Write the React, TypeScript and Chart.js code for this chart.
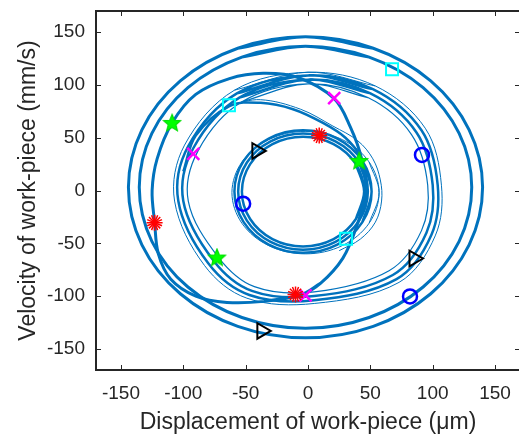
import React, { useEffect, useRef } from 'react';
import { Chart, registerables } from 'chart.js';

Chart.register(...registerables);

type Pt = [number, number];

// ---------- axes ----------
const xLimits = [-170, 170];
const yLimits = [-170, 170];
const xTickValues = [-150, -100, -50, 0, 50, 100, 150];
const yTickValues = [-150, -100, -50, 0, 50, 100, 150];
const xTitle = 'Displacement of work-piece (μm)';
const yTitle = 'Velocity of work-piece (mm/s)';

// ---------- trajectory curves (displacement, velocity) ----------
const outerLoop1: Pt[] = [
  [-2, 145.5], [52.3, 134.7], [98.4, 103.8], [129.2, 57.5], [140, 3], [129.2, -51.5],
  [98.4, -97.8], [52.3, -128.7], [-2, -139.5], [-56.3, -128.7], [-102.4, -97.8],
  [-133.2, -51.5], [-144, 3], [-133.2, 57.5], [-102.4, 103.8], [-56.3, 134.7],
];
const outerLoop2: Pt[] = [
  [-2, 136.5], [49, 126.3], [92.3, 97.4], [121.2, 54.1], [131.3, 3], [121.2, -48.1],
  [92.3, -91.4], [49, -120.3], [-2, -130.5], [-53, -120.3], [-96.3, -91.4],
  [-125.2, -48.1], [-135.3, 3], [-125.2, 54.1], [-96.3, 97.4], [-53, 126.3],
];
const crossingLoop: Pt[] = [
  [-6, -99], [-35, -105], [-65, -106], [-90, -100], [-110, -84], [-120, -60], [-123, -30],
  [-125, 0], [-121, 30], [-109, 64], [-90, 91], [-63, 106], [-36, 111], [-8, 107],
  [21, 87], [34, 60], [43, 30], [46, -2], [39, -34], [28, -64], [10, -88],
];
const middleRingA: Pt[] = [
  [0, 105], [50, 92], [87, 55], [100, 5], [95, -40], [68, -80], [5, -100], [-45, -95],
  [-76, -66], [-100, -10], [-92, 40], [-55, 88],
];
const middleRingB: Pt[] = [
  [0, 109], [52, 96], [91, 57], [104, 5], [99, -42], [71, -84], [5, -104], [-47, -99],
  [-80, -69], [-104, -10], [-96, 42], [-57, 92],
];
const middleRingC: Pt[] = [
  [0, 101], [48, 88], [83, 53], [96, 5], [91, -38], [65, -76], [5, -96], [-43, -91],
  [-72, -63], [-96, -10], [-88, 38], [-53, 84],
];
const middleRingD: Pt[] = [
  [0, 112], [54, 99], [94, 59], [107, 5], [102, -43], [73, -87], [5, -107], [-49, -102],
  [-83, -71], [-107, -10], [-99, 43], [-59, 95],
];
const innerRingA: Pt[] = [
  [48, -1], [41, 26.5], [22, 46.6], [-4, 54], [-30, 46.6], [-49, 26.5], [-56, -1],
  [-49, -28.5], [-30, -48.6], [-4, -56], [22, -48.6], [41, -28.5],
];
const innerRingB: Pt[] = [
  [51, -1], [43.6, 28], [23.5, 49.2], [-4, 57], [-31.5, 49.2], [-51.6, 28], [-59, -1],
  [-51.6, -30], [-31.5, -51.2], [-4, -59], [23.5, -51.2], [43.6, -30],
];
const innerRingC: Pt[] = [
  [45, -1], [38.4, 25], [20.5, 44], [-4, 51], [-28.5, 44], [-46.4, 25], [-53, -1],
  [-46.4, -27], [-28.5, -46], [-4, -53], [20.5, -46], [38.4, -27],
];
const innerRingD: Pt[] = [
  [57, -2], [49, 27], [27.5, 48.2], [-2, 56], [-31.5, 48.2], [-53, 27], [-61, -2],
  [-53, -31], [-31.5, -52.2], [-2, -60], [27.5, -52.2], [49, -31],
];
const transitionThick: Pt[] = [
  [-100, 18], [-90, 52], [-63, 80], [-38, 83], [-12, 77], [12, 64], [30, 50], [42, 32],
  [47, 10], [46, -10],
];
const transitionThin: Pt[] = [
  [-63, 81], [-38, 86], [-6, 77], [20, 61], [40, 47], [52, 30], [58, 10], [59, -10],
  [54, -30], [42, -46], [25, -57],
];

// ---------- Poincaré-type markers ----------
const redStarX = [9, -123, -10];
const redStarY = [52, -30.5, -98.4];
const greenStarX = [-109, 41, -73];
const greenStarY = [64, 28, -63.5];
const magentaCrossX = [21, -92, -2];
const magentaCrossY = [87.5, 34.6, -99.3];
const cyanSquareX = [67.4, -63.4, 30.5];
const cyanSquareY = [114.8, 80.8, -45.6];
const blueCircleX = [91.4, -52, 81.8];
const blueCircleY = [33.7, -12.5, -100.3];
const blackTriangleX = [-41, 85, -37];
const blackTriangleY = [37.5, -64.4, -133];

const LINE_BLUE = '#0072BD';
const AXIS_COLOR = '#262626';
const FONT = "'Liberation Sans', Arial, sans-serif";

const closedPath = (pts: Pt[]) => {
  const n = pts.length;
  return [pts[n - 1], ...pts, pts[0], pts[1]].map(([x, y]) => ({ x, y }));
};
const openPath = (pts: Pt[]) => pts.map(([x, y]) => ({ x, y }));
const zipXY = (xs: number[], ys: number[]) => xs.map((x, i) => ({ x, y: ys[i] }));

const curve = (data: { x: number; y: number }[], width: number) => ({
  data,
  showLine: true,
  borderColor: LINE_BLUE,
  borderWidth: width,
  pointRadius: 0,
  tension: 0.35,
  fill: false,
  order: 1,
});

const zeroPadding = (s: any) => {
  s.paddingTop = 0;
  s.paddingBottom = 0;
  s.paddingLeft = 0;
  s.paddingRight = 0;
};

const boxPlugin = {
  id: 'matlabBox',
  afterDatasetsDraw(chart: any) {
    const { ctx, chartArea, scales } = chart;
    const { left, right, top, bottom } = chartArea;
    const tick = 5;
    ctx.save();
    ctx.strokeStyle = AXIS_COLOR;
    ctx.lineWidth = 1;
    ctx.beginPath();
    for (const v of xTickValues) {
      const px = Math.round(scales.x.getPixelForValue(v)) + 0.5;
      ctx.moveTo(px, bottom);
      ctx.lineTo(px, bottom - tick);
      ctx.moveTo(px, top);
      ctx.lineTo(px, top + tick);
    }
    for (const v of yTickValues) {
      const py = Math.round(scales.y.getPixelForValue(v)) + 0.5;
      ctx.moveTo(left, py);
      ctx.lineTo(left + tick, py);
      ctx.moveTo(right, py);
      ctx.lineTo(right - tick, py);
    }
    ctx.stroke();
    ctx.lineWidth = 2;
    ctx.strokeRect(left, top, right - left, bottom - top);
    ctx.restore();
  },
};

export default function App() {
  const canvasRef = useRef<HTMLCanvasElement | null>(null);

  useEffect(() => {
    const canvas = canvasRef.current;
    if (!canvas) return;

    const pentagram = document.createElement('canvas');
    pentagram.width = 20;
    pentagram.height = 20;
    const pc = pentagram.getContext('2d')!;
    pc.beginPath();
    for (let i = 0; i < 10; i++) {
      const r = i % 2 === 0 ? 9 : 4;
      const a = -Math.PI / 2 + (i * Math.PI) / 5;
      pc.lineTo(10 + r * Math.cos(a), 10.5 + r * Math.sin(a));
    }
    pc.closePath();
    pc.fillStyle = '#00FF00';
    pc.fill();
    pc.strokeStyle = '#00E000';
    pc.lineWidth = 1.2;
    pc.stroke();

    const marker = (data: any[], style: any, color: string, radius: number, width: number, rotation = 0) => ({
      data,
      showLine: false,
      pointStyle: style,
      pointRadius: radius,
      pointRotation: rotation,
      pointBorderColor: color,
      pointBackgroundColor: 'rgba(0,0,0,0)',
      pointBorderWidth: width,
      order: 0,
    });

    const chart = new Chart(canvas, {
      type: 'scatter',
      data: {
        datasets: [
          curve(closedPath(outerLoop1), 3),
          curve(closedPath(outerLoop2), 3),
          curve(closedPath(crossingLoop), 3),
          curve(closedPath(middleRingA), 2.5),
          curve(closedPath(middleRingB), 2.5),
          curve(closedPath(middleRingC), 1.2),
          curve(closedPath(middleRingD), 1),
          curve(closedPath(innerRingA), 2.5),
          curve(closedPath(innerRingB), 2.5),
          curve(closedPath(innerRingC), 2.5),
          curve(closedPath(innerRingD), 1),
          curve(openPath(transitionThick), 2.5),
          curve(openPath(transitionThin), 1),
          marker(zipXY(redStarX, redStarY), 'star', '#FF0000', 8, 1.5),
          marker(zipXY(redStarX, redStarY), 'star', '#FF0000', 8, 1.5, 22.5),
          marker(zipXY(greenStarX, greenStarY), pentagram, '#00FF00', 10, 1),
          marker(zipXY(magentaCrossX, magentaCrossY), 'crossRot', '#FF00FF', 8.5, 2.5),
          marker(zipXY(cyanSquareX, cyanSquareY), 'rect', '#00FFFF', 8.5, 2),
          marker(zipXY(blueCircleX, blueCircleY), 'circle', '#0000FF', 7, 2.5),
          marker(zipXY(blackTriangleX, blackTriangleY), 'triangle', '#000000', 9, 2, 90),
        ] as any,
      },
      options: {
        responsive: false,
        animation: false,
        events: [],
        devicePixelRatio: 1,
        layout: { autoPadding: false, padding: { top: 11, right: 10, bottom: 0, left: 0 } },
        plugins: { legend: { display: false }, tooltip: { enabled: false } },
        scales: {
          x: {
            type: 'linear',
            min: xLimits[0],
            max: xLimits[1],
            afterBuildTicks: (s: any) => {
              s.ticks = xTickValues.map((value) => ({ value }));
            },
            afterFit: (s: any) => {
              s.height = 64;
              zeroPadding(s);
            },
            grid: { display: false, drawTicks: false },
            border: { display: false },
            ticks: {
              autoSkip: false,
              maxRotation: 0,
              padding: 12,
              color: AXIS_COLOR,
              font: { family: FONT, size: 19 },
            },
            title: {
              display: true,
              text: xTitle,
              color: AXIS_COLOR,
              font: { family: FONT, size: 23, lineHeight: 1 },
              padding: { top: 0, bottom: 0 },
            },
          },
          y: {
            type: 'linear',
            min: yLimits[0],
            max: yLimits[1],
            afterBuildTicks: (s: any) => {
              s.ticks = yTickValues.map((value) => ({ value }));
            },
            afterFit: (s: any) => {
              s.width = 96;
              zeroPadding(s);
            },
            grid: { display: false, drawTicks: false },
            border: { display: false },
            ticks: {
              autoSkip: false,
              padding: 11,
              color: AXIS_COLOR,
              font: { family: FONT, size: 19 },
            },
            title: {
              display: true,
              text: yTitle,
              color: AXIS_COLOR,
              font: { family: FONT, size: 23, lineHeight: 1 },
              padding: { top: 17.5, bottom: 0 },
            },
          },
        },
      } as any,
      plugins: [boxPlugin],
    });

    return () => chart.destroy();
  }, []);

  return (
    <div
      style={{
        position: 'absolute',
        left: 0,
        top: 0,
        width: 519,
        height: 434,
        overflow: 'hidden',
        background: '#ffffff',
      }}
    >
      <canvas ref={canvasRef} width={530} height={434} style={{ width: 530, height: 434, display: 'block' }} />
    </div>
  );
}
